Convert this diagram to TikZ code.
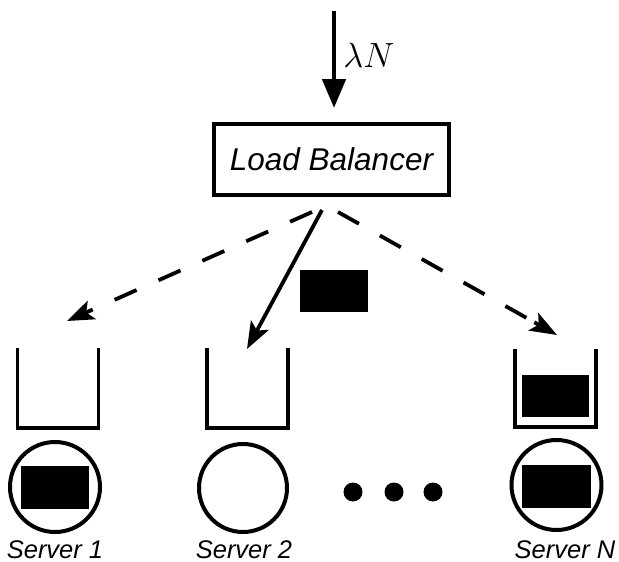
\RequirePackage{fix-cm}
\documentclass[tikz,border=0pt]{standalone}
\usepackage{fontspec}
\newfontfamily\labfont{Liberation Sans}
\usetikzlibrary{arrows.meta,calc}
\begin{document}
\begin{tikzpicture}[x=1pt,y=-1pt,
  lbbox/.style={draw,line width=4.4pt,minimum width=235pt,minimum height=71pt,inner sep=0pt,
    font=\labfont\itshape\fontsize{31.5}{36}\selectfont},
  lab/.style={anchor=base,inner sep=0pt,font=\labfont\itshape\fontsize{25.5}{30}\selectfont},
  pkt/.style={fill=black,draw=none,inner sep=0pt},
  qline/.style={line width=3.8pt},
  srv/.style={line width=4pt},
  dot/.style={fill=black},
  route/.style={line width=3.8pt,-{Stealth[length=27pt,width=20pt,inset=6pt]}},
  dashline/.style={line width=3.8pt,dash pattern=on 24pt off 24pt}
]
\useasboundingbox (0,0) rectangle (619,562);

% incoming arrow
\coordinate (in) at (334,11);
\coordinate (intip) at (334,108);
\draw[line width=4.8pt,-{Triangle[width=23pt,length=29pt]}] (in) -- (intip);
\node[inner sep=0pt,font=\fontsize{35}{40}\selectfont] (lam) at (369,55) {$\lambda N$};

% load balancer
\node[lbbox] (lb) at (331.5,159.5) {Load Balancer};

% routing start and end points
\coordinate (s1) at (312,212);
\coordinate (s2) at (322,210);
\coordinate (s3) at (338,212);
\coordinate (t1) at (67,321);
\coordinate (t2) at (247,349);
\coordinate (t3) at (557,335);
\coordinate (h1) at ($(t1)!26pt!(s1)$);
\coordinate (h3) at ($(t3)!26pt!(s3)$);
\draw[dashline] (s1) -- (h1);
\draw[route] (h1) -- (t1);
\draw[route] (s2) -- (t2);
\draw[dashline] (s3) -- (h3);
\draw[route] (h3) -- (t3);

% packet in transit
\node[pkt,minimum width=68pt,minimum height=42pt] (p0) at (334,291) {};

% queues
\draw[qline] (17.5,348) -- (17.5,428) -- (98.5,428) -- (98.5,348);
\draw[qline] (207,348) -- (207,428) -- (288,428) -- (288,348);
\draw[qline] (515,349) -- (515,427) -- (596,427) -- (596,349);
\node[pkt,minimum width=67pt,minimum height=42pt] (pq) at (555.5,396) {};

% servers
\draw[srv] (55,487) circle[radius=45pt];
\draw[srv] (243,488) circle[radius=44pt];
\draw[srv] (556.5,485) circle[radius=45pt];
\node[pkt,minimum width=68pt,minimum height=43pt] (ps1) at (55,487.5) {};
\node[pkt,minimum width=69pt,minimum height=43pt] (psn) at (556.5,486.5) {};

% dots
\fill[dot] (353,492) circle[radius=9.5pt];
\fill[dot] (394,492) circle[radius=9.5pt];
\fill[dot] (433,492) circle[radius=9.5pt];

% labels
\node[lab] (l1) at (55,558) {Server 1};
\node[lab] (l2) at (244,558) {Server 2};
\node[lab] (ln) at (565,558) {Server N};
\end{tikzpicture}
\end{document}
